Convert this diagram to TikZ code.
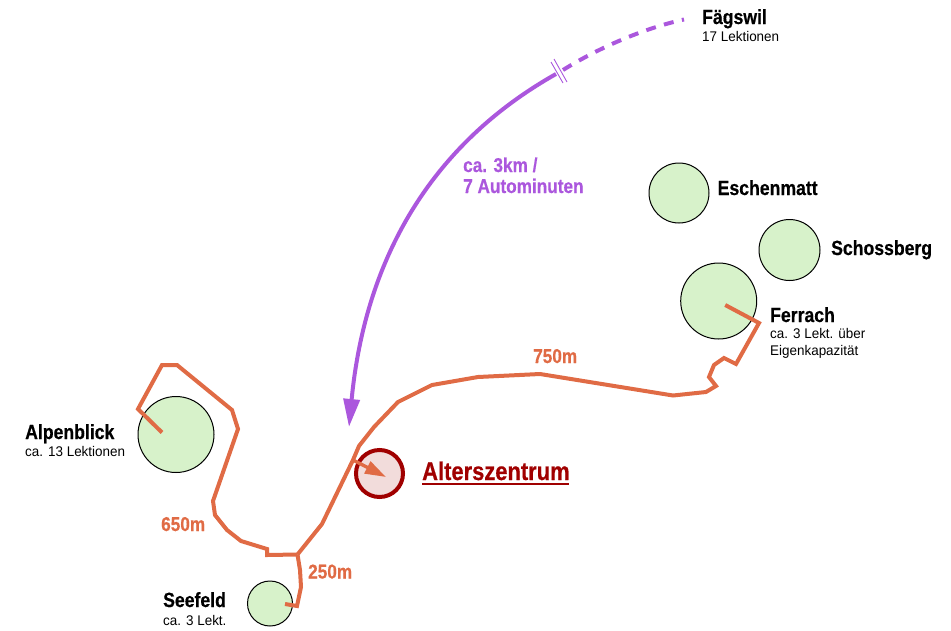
\documentclass[tikz,border=0pt]{standalone}
\usepackage{fontspec}
\setmainfont{Liberation Sans}[FakeStretch=0.96]
\newfontfamily\hvy{Liberation Sans Bold}[FakeStretch=0.86,FakeBold=0.5]
\usetikzlibrary{arrows.meta}
\definecolor{routecol}{HTML}{E06B45}
\definecolor{carcol}{HTML}{AB57DD}
\definecolor{leafcol}{HTML}{D7F2CA}
\definecolor{homecol}{HTML}{A00000}
\definecolor{homefill}{HTML}{F2DCDB}
\tikzset{
  x=1pt,y=-1pt,
  placedisc/.style={circle,draw=black,line width=1pt,fill=leafcol,inner sep=0pt,minimum size=#1},
  routeline/.style={draw=routecol,line width=4pt,line join=miter},
  carline/.style={draw=carcol,line width=4pt},
  placename/.style={anchor=base west,inner sep=0pt,font=\hvy\fontsize{20.5}{20.5}\selectfont,text=black},
  subname/.style={anchor=base west,inner sep=0pt,font=\fontsize{14}{14}\selectfont,text=black},
  routelabel/.style={anchor=base west,inner sep=0pt,font=\hvy\fontsize{20}{20}\selectfont,text=routecol},
  carlabel/.style={anchor=base west,inner sep=0pt,font=\hvy\fontsize{20}{20}\selectfont,text=carcol},
  breakmark/.style={draw=carcol,line width=0.9pt}
}
\begin{document}
\begin{tikzpicture}
\useasboundingbox (0,0) rectangle (951,630);
% places
\node[placedisc=60pt] (eschenmatt) at (679,193) {};
\node[placedisc=61pt] (schossberg) at (789.5,250) {};
\node[placedisc=76pt] (ferrach) at (718.7,301) {};
\node[placedisc=76pt] (alpenblick) at (176,434.5) {};
\node[placedisc=45pt] (seefeld) at (270,603.5) {};
\node[circle,draw=homecol,line width=4pt,fill=homefill,inner sep=0pt,minimum size=47pt] (zentrum) at (379.5,473.5) {};
% junctions
\coordinate (junction) at (297.5,554.5);
\coordinate (branch) at (353,460);
\coordinate (fagend) at (684,19.5);
\coordinate (breakA) at (563,70);
\coordinate (breakB) at (556,74);
\coordinate (cartip) at (349,427);
% routes
\draw[routeline] ([shift={(6.5,4)}]ferrach.center) -- (759,323) -- (736,364) -- (724,358) -- (714,365) -- (709,377) -- (716,386) -- (706,392) -- (673,395.5) -- (540,374) -- (478,377) -- (432,385) -- (398,402) -- (374,427) -- (359,446) -- (branch) -- (322,524) -- (junction);
\draw[routeline] (junction) -- (267,555) -- (267,549) -- (241,541) -- (227,530) -- (215,515) -- (213,501) -- (238,429) -- (232,410) -- (177,365) -- (162,365) -- (138,409) -- ([shift={(-14,-2)}]alpenblick.center);
\draw[routeline] (junction) -- (300,570) -- (301,587) -- (297,606) -- ([shift={(15,0.5)}]seefeld.center);
\draw[routeline,line width=3.4pt,-{Triangle[length=21pt,width=13pt]}] (branch) -- (386,477);
% car line
\draw[carline,-{Triangle[length=28pt,width=16pt]}] (breakB) .. controls (430,145) and (365,260) .. (cartip);
\draw[carline,dash pattern=on 10pt off 8.5pt] (breakA) .. controls (600,47) and (645,28) .. (fagend);
\draw[breakmark] (551,62) -- (563,83);
\draw[breakmark] (554,59) -- (567,82);
% labels
\node[placename] (lf) at (702,24) {Fägswil};
\node[subname] (lfs) at (702,41) {17 Lektionen};
\node[placename] (le) at (717.5,195) {Eschenmatt};
\node[placename] (ls) at (831,255) {Schossberg};
\node[placename] (lfe) at (770,322) {Ferrach};
\node[subname] (lfes) at (770,338) {ca. 3 Lekt. über};
\node[subname] (lfet) at (770,355) {Eigenkapazität};
\node[placename] (la) at (25,439) {Alpenblick};
\node[subname] (las) at (25,456) {ca. 13 Lektionen};
\node[placename] (lse) at (163,607) {Seefeld};
\node[subname] (lses) at (163,625) {ca. 3 Lekt.};
\node[routelabel] (r750) at (533,363) {750m};
\node[routelabel] (r650) at (161,531) {650m};
\node[routelabel] (r250) at (308,578.5) {250m};
\node[carlabel] (c1) at (463,172) {ca. 3km /};
\node[carlabel] (c2) at (463,193) {7 Autominuten};
\node[anchor=base west,inner sep=0pt,font=\hvy\fontsize{25.5}{25.5}\selectfont,text=homecol] (lz) at (422,480) {Alterszentrum};
\draw[homecol,line width=2pt] (422,484) -- (569,484);
\end{tikzpicture}
\end{document}
